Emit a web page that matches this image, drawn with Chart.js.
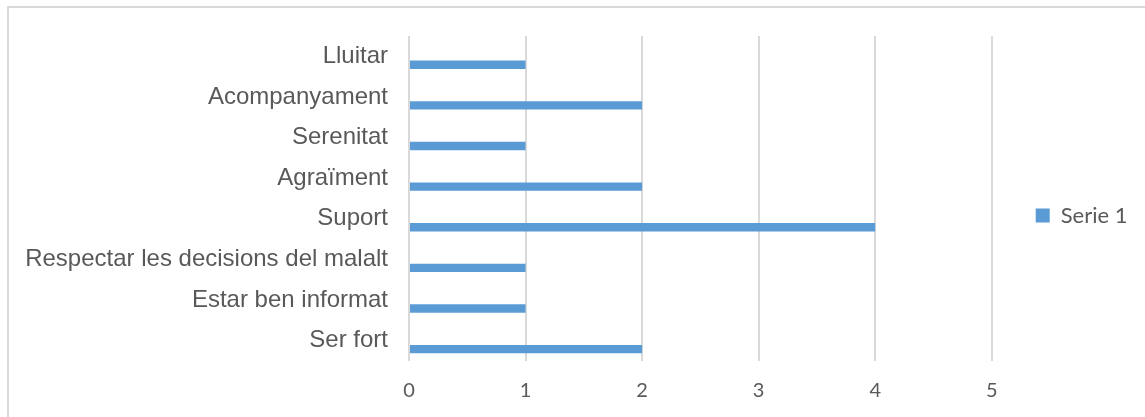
<!DOCTYPE html>
<html>
<head>
<meta charset="utf-8">
<script src="https://cdn.jsdelivr.net/npm/chart.js@4.4.1/dist/chart.umd.min.js"></script>
<style>
  html, body { margin: 0; padding: 0; background: #ffffff; overflow: hidden; }
  #wrap { position: relative; width: 1145px; height: 417px; }
  #frame { position: absolute; left: 7px; top: 6px; width: 1200px; height: 500px; border: 2px solid #d9d9d9; box-sizing: border-box; }
  #c { position: absolute; left: 0; top: 0; }
</style>
</head>
<body>
<div id="wrap">
  <div id="frame"></div>
  <canvas id="c" width="1145" height="417"></canvas>
</div>
<script>
const categories = ['Lluitar', 'Acompanyament', 'Serenitat', 'Agraïment', 'Suport', 'Respectar les decisions del malalt', 'Estar ben informat', 'Ser fort'];
const serie1 = [1, 2, 1, 2, 4, 1, 1, 2];
const serie2 = [];
const serie3 = [];
const xTickValues = [0, 1, 2, 3, 4, 5];

const TEXT = '#595959';
const GRID = '#d9d9d9';

new Chart(document.getElementById('c'), {
  type: 'bar',
  data: {
    labels: categories,
    datasets: [
      { label: 'Serie 3', data: serie3, backgroundColor: '#a5a5a5' },
      { label: 'Serie 2', data: serie2, backgroundColor: '#ed7d31' },
      { label: 'Serie 1', data: serie1, backgroundColor: '#5b9bd5' }
    ]
  },
  options: {
    indexAxis: 'y',
    responsive: false,
    animation: false,
    devicePixelRatio: 1,
    categoryPercentage: 0.62,
    barPercentage: 1,
    layout: { padding: { left: 26, top: 36, right: 7.5, bottom: 0 } },
    scales: {
      x: {
        min: 0,
        max: 5,
        afterBuildTicks: (s) => { s.ticks = xTickValues.map(v => ({ value: v })); },
        afterFit: (s) => { s.height = 56; },
        grid: { color: GRID, lineWidth: 2, drawTicks: false },
        border: { display: false },
        ticks: { color: TEXT, padding: 18, font: { family: 'Lato', size: 20 } }
      },
      y: {
        afterFit: (s) => { s.width = 383; },
        grid: { display: false, drawTicks: false },
        border: { display: false },
        ticks: { color: TEXT, padding: 21, font: { family: 'Liberation Sans', size: 24 } }
      }
    },
    plugins: {
      tooltip: { enabled: false },
      legend: {
        position: 'right',
        align: 'center',
        fullSize: false,
        title: { display: true, text: '', padding: 9.8, font: { size: 12 } },
        labels: {
          filter: (item) => item.text === 'Serie 1',
          boxWidth: 14,
          boxHeight: 14,
          padding: 44,
          color: TEXT,
          font: { family: 'Lato', size: 22 }
        }
      }
    }
  }
});
</script>
</body>
</html>
